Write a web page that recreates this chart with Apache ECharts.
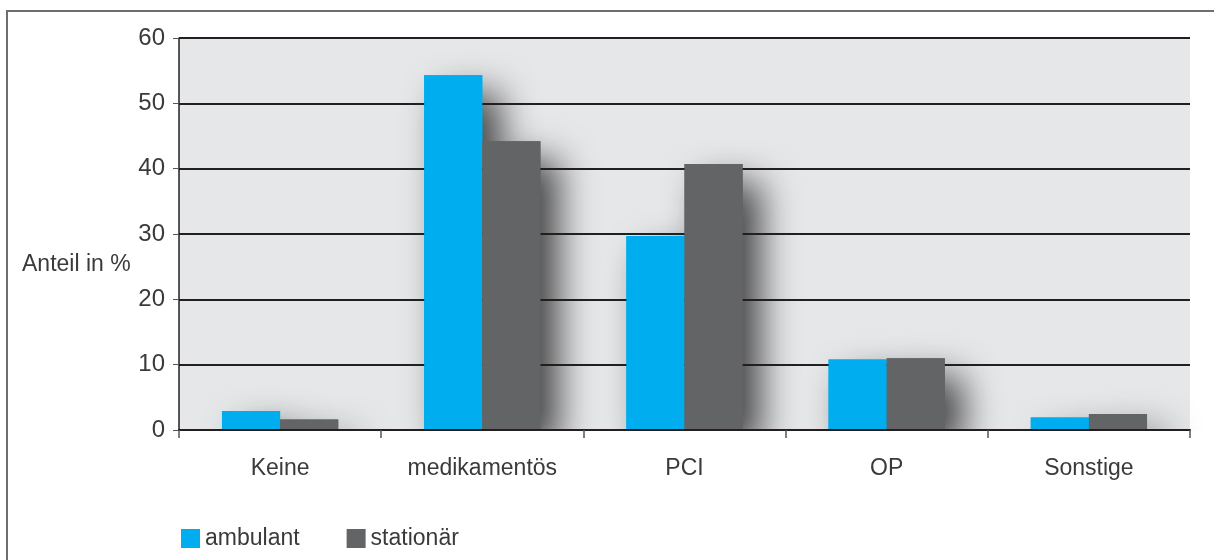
<!DOCTYPE html>
<html>
<head>
<meta charset="utf-8">
<style>
  html, body { margin: 0; padding: 0; background: #ffffff; }
  #chart { width: 1214px; height: 560px; }
</style>
<script src="https://cdn.jsdelivr.net/npm/echarts@6/dist/echarts.min.js"></script>
</head>
<body>
<div id="chart"></div>
<script>
// Therapieform nach Versorgungsbereich
const categories = ['Keine', 'medikamentös', 'PCI', 'OP', 'Sonstige'];
const ambulant = [2.9, 54.3, 29.7, 10.8, 1.9];
const stationaer = [1.6, 44.2, 40.7, 11.0, 2.45];
const seriesNames = ['ambulant', 'stationär'];
const axisTitle = 'Anteil in %';

const FONT = '"Liberation Sans", Arial, Helvetica, sans-serif';
const TEXT = '#3a3a3a';
const COLORS = ['#00adee', '#636466'];

const GRID = { left: 179, right: 24, top: 38, bottom: 130 };
const CHART_W = 1214, CHART_H = 560;
const BAR_GAP = '0%', CAT_GAP = '42.5%';

const chart = echarts.init(document.getElementById('chart'), null, { renderer: 'canvas' });

// Soft drop shadows are drawn by a copy of the bars underneath the grid lines;
// the visible bars sit on top without a shadow.
const shadowStyle = {
  shadowBlur: 36,
  shadowOffsetX: 18,
  shadowOffsetY: 18,
  shadowColor: 'rgba(0,0,0,0.7)'
};

function barSeries(name, data, color, opts) {
  return Object.assign({
    name: name,
    type: 'bar',
    data: data,
    barGap: BAR_GAP,
    barCategoryGap: CAT_GAP,
    itemStyle: { color: color }
  }, opts || {});
}

chart.setOption({
  animation: false,
  backgroundColor: '#ffffff',
  textStyle: { fontFamily: FONT },
  grid: Object.assign({
    show: true,
    backgroundColor: '#e6e7e9',
    borderWidth: 0,
    z: 0
  }, GRID),
  legend: {
    left: 176, top: 522,
    z: 6,
    icon: 'rect',
    itemWidth: 19, itemHeight: 19,
    itemGap: 47,
    textStyle: { fontSize: 23, color: TEXT, fontFamily: FONT },
    data: seriesNames
  },
  xAxis: [
    {
      type: 'category',
      data: categories,
      z: 5,
      axisLine: { show: true, lineStyle: { color: '#231f20', width: 2 } },
      axisTick: { show: true, length: 8, lineStyle: { color: '#555555', width: 1.5 } },
      axisLabel: { fontSize: 23, color: TEXT, margin: 27, fontFamily: FONT },
      splitLine: { show: false }
    },
    {
      type: 'category',
      data: categories,
      show: false
    }
  ],
  yAxis: {
    type: 'value',
    min: 0, max: 60, interval: 10,
    z: 3,
    axisLine: { show: true, lineStyle: { color: '#231f20', width: 1.5 } },
    axisTick: { show: true, length: 6, lineStyle: { color: '#555555', width: 1 } },
    axisLabel: { fontSize: 24, color: TEXT, margin: 14, fontFamily: FONT },
    splitLine: { show: true, lineStyle: { color: '#231f20', width: 2 } }
  },
  series: [
    barSeries('shadow-ambulant', ambulant, COLORS[0], {
      xAxisIndex: 1, z: 1, silent: true,
      itemStyle: Object.assign({ color: COLORS[0] }, shadowStyle)
    }),
    barSeries('shadow-stationaer', stationaer, COLORS[1], {
      xAxisIndex: 1, z: 1, silent: true,
      itemStyle: Object.assign({ color: COLORS[1] }, shadowStyle)
    }),
    barSeries(seriesNames[0], ambulant, COLORS[0], { z: 4 }),
    barSeries(seriesNames[1], stationaer, COLORS[1], { z: 4 })
  ],
  graphic: [
    {
      // keeps the shadows inside the plot area
      type: 'rect',
      z: 2,
      silent: true,
      shape: {
        x: 9,
        y: CHART_H - GRID.bottom + 1,
        width: CHART_W - 9,
        height: GRID.bottom
      },
      style: { fill: '#ffffff' }
    },
    {
      type: 'polyline',
      z: 6,
      silent: true,
      shape: { points: [[7, CHART_H], [7, 11], [CHART_W, 11]] },
      style: { stroke: '#6d6e70', lineWidth: 2, fill: null }
    },
    {
      type: 'text',
      z: 6,
      left: 22, top: 253,
      style: { text: axisTitle, font: '23px ' + FONT, fill: TEXT }
    }
  ]
});
</script>
</body>
</html>
